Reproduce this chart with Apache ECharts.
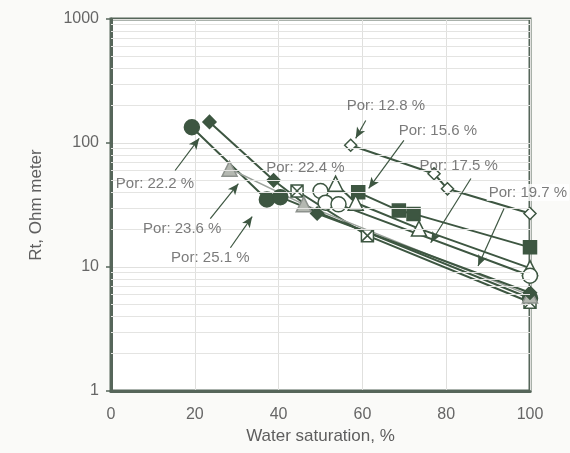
<!DOCTYPE html>
<html><head><meta charset="utf-8">
<script src="https://cdn.jsdelivr.net/npm/echarts@6/dist/echarts.min.js"></script>
<style>html,body{margin:0;padding:0;background:#fafaf8}#c{width:570px;height:453px}</style>
</head><body><div id="c"></div><script>
// ---- data (Water saturation %, Rt ohm-m) ----
const sw128 = [57.2, 77.1, 80.3, 100];
const rt128 = [96, 56.5, 42.7, 27];
const sw156 = [59, 68.7, 72.2, 100];
const rt156 = [40, 28.5, 26.8, 14.4];
const sw175 = [53.6, 58.4, 73.5, 100];
const rt175 = [47, 33, 20.4, 9.8];
const sw197 = [50, 51.2, 54.3, 100];
const rt197 = [41, 33, 32, 8.5];
const sw222 = [19.3, 37.2, 40.4, 100];
const rt222 = [134, 35, 36.6, 5.6];
const sw224 = [44.4, 61.2, 100];
const rt224 = [41, 17.9, 5.2];
const sw236 = [28.3, 46, 100];
const rt236 = [62, 32, 5.9];
const sw251 = [23.5, 38.8, 49.2, 100];
const rt251 = [148, 50, 27, 6.2];

const xTicks = [0, 20, 40, 60, 80, 100];
const yTicks = [1, 10, 100, 1000];
const yMinor = [2,3,4,5,6,7,8,9,20,30,40,50,60,70,80,90,200,300,400,500,600,700,800,900];

// annotation labels (anchor in data units)
const annText = ['Por: 12.8 %','Por: 15.6 %','Por: 17.5 %','Por: 19.7 %','Por: 22.2 %','Por: 22.4 %','Por: 23.6 %','Por: 25.1 %'];
const annX = [65.6, 78.0, 83.0, 99.5, 10.5, 46.4, 17.0, 23.7];
const annY = [201, 126, 65.9, 39.8, 47, 63.5, 20.4, 11.9];
// leader lines: from [x,y] to [x,y]
const leadFrom = [[60.8,152],[69.9,105],[85.9,51.7],[93.8,29.6],[15.3,60],[23.7,24.6],[28.5,14.3]];
const leadTo   = [[58.4,109],[61.5,43],[76.3,15.7],[87.6,10.2],[21.05,109],[30.4,47],[33.7,25.5]];

const DARK = '#3d5641';
const FONT = '"Liberation Sans", Arial, sans-serif';

function pts(xs, ys){ return xs.map((x,i)=>[x, ys[i]]); }
const squareX = 'path://M0,0H10V10H0Z M0,0L10,10 M10,0L0,10';
const rotSquare = 'path://M5,0L10,5L5,10L0,5Z';

const seriesDefs = [
  {name:'Por 12.8', d:pts(sw128,rt128), symbol:rotSquare, size:12, fill:'#fff'},
  {name:'Por 15.6', d:pts(sw156,rt156), symbol:'rect', size:13, fill:DARK},
  {name:'Por 17.5', d:pts(sw175,rt175), symbol:'triangle', size:15, fill:'#fff'},
  {name:'Por 19.7', d:pts(sw197,rt197), symbol:'circle', size:15, fill:'#fff'},
  {name:'Por 22.2', d:pts(sw222,rt222), symbol:'circle', size:15, fill:DARK},
  {name:'Por 22.4', d:pts(sw224,rt224), symbol:squareX, size:12, fill:'#fff'},
  {name:'Por 23.6', d:pts(sw236,rt236), symbol:'triangle', size:15, fill:'#b4b8b1', line:'#9ca29c', border:'#8d928d'},
  {name:'Por 25.1', d:pts(sw251,rt251), symbol:rotSquare, size:13, fill:DARK}
];

const series = seriesDefs.map(s => ({
  name: s.name, type: 'line', data: s.d, symbol: s.symbol, symbolSize: s.size,
  showAllSymbol: true, z: 3,
  lineStyle: {color: s.line || DARK, width: s.line ? 1.5 : 2},
  itemStyle: {color: s.fill, borderColor: s.border || DARK, borderWidth: 1.5, opacity: 1},
  emphasis: {disabled: true}, animation: false
}));

// minor log grid lines
series.push({
  type: 'line', data: [], silent: true, animation: false, z: 1,
  markLine: {silent: true, symbol: ['none','none'], label:{show:false},
    lineStyle: {color:'#e4e4e2', width:1, type:'solid'},
    data: yMinor.map(v => ({yAxis: v}))}
});

// annotations
series.push({
  type: 'scatter', silent: true, animation: false, z: 6, symbolSize: 0,
  data: annText.map((t,i) => ({
    value: [annX[i], annY[i]], name: t,
    label: i === 3 ? {backgroundColor:'#ffffff', padding:[1,2]} : {}
  })),
  label: {show: true, position: 'inside', formatter: '{b}', color: '#5a5a5a',
    fontSize: 15, fontFamily: FONT},
  markLine: {silent: true, symbol: ['none','arrow'], symbolSize: [7, 11], label:{show:false},
    lineStyle: {color: DARK, width: 1.2, type: 'solid'},
    data: leadFrom.map((f,i) => [{coord: f}, {coord: leadTo[i]}])}
});

const chart = echarts.init(document.getElementById('c'), null, {renderer:'canvas'});
chart.setOption({
  backgroundColor: '#fafaf8',
  animation: false,
  grid: {left: 111, right: 40, top: 19, bottom: 62, show: true, borderColor: '#56665a', borderWidth: 3, backgroundColor: '#ffffff'},
  xAxis: {
    type: 'value', min: xTicks[0], max: xTicks[xTicks.length-1], interval: 20,
    name: 'Water saturation, %', nameLocation: 'middle', nameGap: 36,
    nameTextStyle: {fontSize: 17, color: '#5e5e5e', fontFamily: FONT},
    axisLine: {lineStyle: {color: '#56665a', width: 3}},
    axisTick: {show: false},
    axisLabel: {fontSize: 16, color: '#666', margin: 16, fontFamily: FONT},
    splitLine: {lineStyle: {color: '#e0e0de', width: 1}}
  },
  yAxis: {
    type: 'log', logBase: 10, min: yTicks[0], max: yTicks[yTicks.length-1],
    name: 'Rt, Ohm meter', nameLocation: 'middle', nameGap: 66,
    nameTextStyle: {fontSize: 17, color: '#5e5e5e', fontFamily: FONT},
    axisLine: {lineStyle: {color: '#56665a', width: 3}},
    axisTick: {show: true, length: 5, lineStyle: {color: '#56665a', width: 1.5}},
    axisLabel: {fontSize: 16, color: '#666', margin: 12, fontFamily: FONT,
      formatter: v => String(Math.round(v))},
    splitLine: {lineStyle: {color: '#e0e0de', width: 1}}
  },
  series: series
});
</script></body></html>
